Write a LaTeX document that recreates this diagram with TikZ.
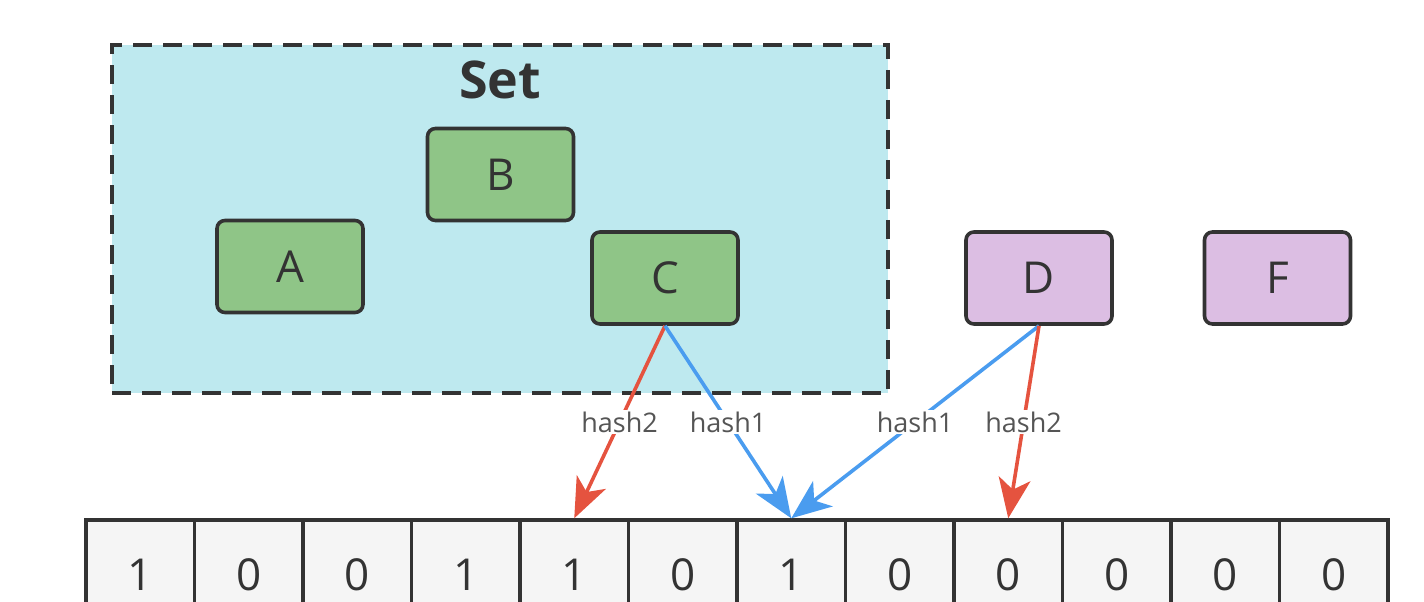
\documentclass[tikz,border=0pt]{standalone}
\usepackage{fontspec}
\setmainfont{Open Sans}
\usetikzlibrary{arrows.meta}
\definecolor{setfill}{HTML}{BEE9EF}
\definecolor{gfill}{HTML}{8FC587}
\definecolor{pfill}{HTML}{DCBEE3}
\definecolor{edge}{HTML}{333333}
\definecolor{hred}{HTML}{E5533F}
\definecolor{hblue}{HTML}{4A9CEF}
\definecolor{cellfill}{HTML}{F5F5F5}
\definecolor{lbl}{HTML}{555555}
\tikzset{
  item/.style={draw=edge, line width=3.6pt, rounded corners=8pt, minimum width=146pt, minimum height=92pt, inner sep=0pt, font=\fontsize{44}{44}\selectfont, text=edge},
  green item/.style={item, fill=gfill},
  purple item/.style={item, fill=pfill},
  cell/.style={draw=edge, line width=3.4pt, fill=cellfill, minimum width=108.5pt, minimum height=110pt, inner sep=0pt, font=\fontsize{44}{44}\selectfont, text=edge},
  hashline/.style={line width=3.6pt, -{Stealth[length=40pt, width=32pt, inset=11pt]}},
  hashlabel/.style={fill=white, inner sep=2pt, font=\fontsize{27}{27}\selectfont, text=lbl, pos=0.5},
}
\begin{document}
\begin{tikzpicture}[x=1pt, y=-1pt]
\useasboundingbox (0,0) rectangle (1424,602);
\clip (0,0) rectangle (1424,602);
\node[draw=edge, fill=setfill, line width=3.6pt, dash pattern=on 19pt off 11pt, minimum width=776pt, minimum height=348pt, inner sep=0pt] (set) at (500,219) {};
\node[font=\fontsize{52}{52}\selectfont\bfseries, text=edge] (settitle) at (500,80) {Set};
\node[green item] (A) at (290,266.5) {A};
\node[green item] (B) at (500.5,174.5) {B};
\node[green item] (C) at (665,278) {C};
\node[purple item] (D) at (1039,278) {D};
\node[purple item] (F) at (1277.5,278) {F};
\foreach \v [count=\i] in {1,0,0,1,1,0,1,0,0,0,0,0} {
  \node[cell] (c\i) at ({86+108.5*(\i-0.5)},575) {\v};
}
\draw[hashline, hred] (C.south) -- node[hashlabel] {hash2} (c5.north);
\draw[hashline, hblue] (C.south) -- node[hashlabel] {hash1} (c7.north);
\draw[hashline, hblue] (D.south) -- node[hashlabel] {hash1} (c7.north);
\draw[hashline, hred] (D.south) -- node[hashlabel] {hash2} (c9.north);
\end{tikzpicture}
\end{document}
